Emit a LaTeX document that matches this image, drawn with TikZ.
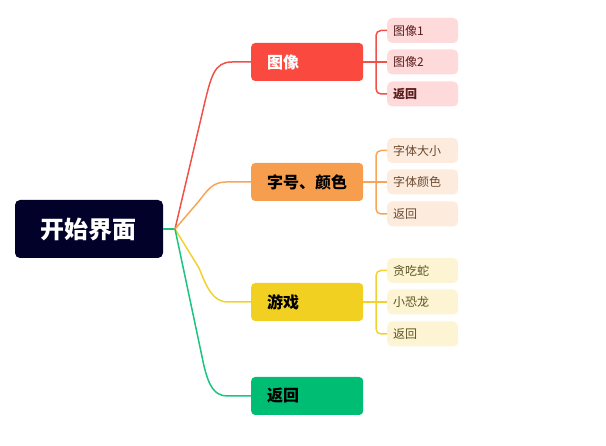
\documentclass[tikz,border=0pt]{standalone}
\usepackage{fontspec}
\setmainfont{Noto Sans CJK SC}
\definecolor{rootc}{HTML}{02012A}
\definecolor{redb}{HTML}{FA4A3F}
\definecolor{redl}{HTML}{F0524A}
\definecolor{reds}{HTML}{FFDADA}
\definecolor{redt}{HTML}{5A1B1B}
\definecolor{orb}{HTML}{F69E4D}
\definecolor{orl}{HTML}{F7A659}
\definecolor{ors}{HTML}{FDEBDD}
\definecolor{ort}{HTML}{6A4A30}
\definecolor{yeb}{HTML}{F2D022}
\definecolor{yel}{HTML}{F2D22E}
\definecolor{yes}{HTML}{FCF4D2}
\definecolor{yet}{HTML}{5C5423}
\definecolor{grb}{HTML}{00BD74}
\definecolor{grl}{HTML}{1BC481}
\begin{document}
\begin{tikzpicture}[x=1pt,y=-1pt,
  rootbox/.style={fill=rootc,rounded corners=5pt,minimum width=148pt,minimum height=58pt,text=white,font=\fontsize{24}{24}\selectfont\bfseries,inner sep=0pt},
  mainbox/.style={rounded corners=4pt,minimum width=112pt,minimum height=38pt,text width=80pt,align=left,font=\fontsize{16}{16}\selectfont\bfseries,inner sep=0pt,anchor=west},
  subbox/.style={rounded corners=5pt,minimum width=71pt,minimum height=25pt,text width=59pt,align=left,font=\fontsize{12}{12}\selectfont,inner sep=0pt,anchor=west},
  link/.style={line width=1.5pt},
  bracket/.style={line width=1.5pt,rounded corners=5pt}]
\useasboundingbox (0,0) rectangle (606,446);
\node[rootbox] (root) at (89,229) {开始界面};
\coordinate (J) at (175,229);
% main boxes
\node[mainbox,fill=redb,text=white] (img) at (251,62) {图像};
\node[mainbox,fill=orb,text=black] (font) at (251,182) {字号、颜色};
\node[mainbox,fill=yeb,text=black] (game) at (251,302) {游戏};
\node[mainbox,fill=grb,text=black] (back) at (251,396) {返回};
% links from root
\draw[link,grl] (root.east) -- (J);
\draw[link,redl] (J) -- (203,110) .. controls (211,76) and (214,62) .. (232,62) -- (img.west);
\draw[link,orl] (J) -- (199,201) .. controls (207,191) and (212,182) .. (226,182) -- (font.west);
\draw[link,yel] (J) -- (199,268) .. controls (207,288) and (213,302) .. (228,302) -- (game.west);
\draw[link,grl] (J) -- (204,366) .. controls (209,386) and (214,396) .. (228,396) -- (back.west);
% sub boxes
\node[subbox,fill=reds,text=redt] (r1) at (387,30.5) {图像1};
\node[subbox,fill=reds,text=redt] (r2) at (387,62) {图像2};
\node[subbox,fill=reds,text=redt,font=\fontsize{12}{12}\selectfont\bfseries] (r3) at (387,94) {返回};
\node[subbox,fill=ors,text=ort] (o1) at (387,150.5) {字体大小};
\node[subbox,fill=ors,text=ort] (o2) at (387,182) {字体颜色};
\node[subbox,fill=ors,text=ort] (o3) at (387,214) {返回};
\node[subbox,fill=yes,text=yet] (y1) at (387,270.5) {贪吃蛇};
\node[subbox,fill=yes,text=yet] (y2) at (387,302) {小恐龙};
\node[subbox,fill=yes,text=yet] (y3) at (387,334) {返回};
% brackets
\draw[link,redl] (img.east) -- (r2.west);
\draw[bracket,redl] (r1.west) -| (376,62) |- (r3.west);
\draw[link,orl] (font.east) -- (o2.west);
\draw[bracket,orl] (o1.west) -| (376,182) |- (o3.west);
\draw[link,yel] (game.east) -- (y2.west);
\draw[bracket,yel] (y1.west) -| (376,302) |- (y3.west);
\end{tikzpicture}
\end{document}
